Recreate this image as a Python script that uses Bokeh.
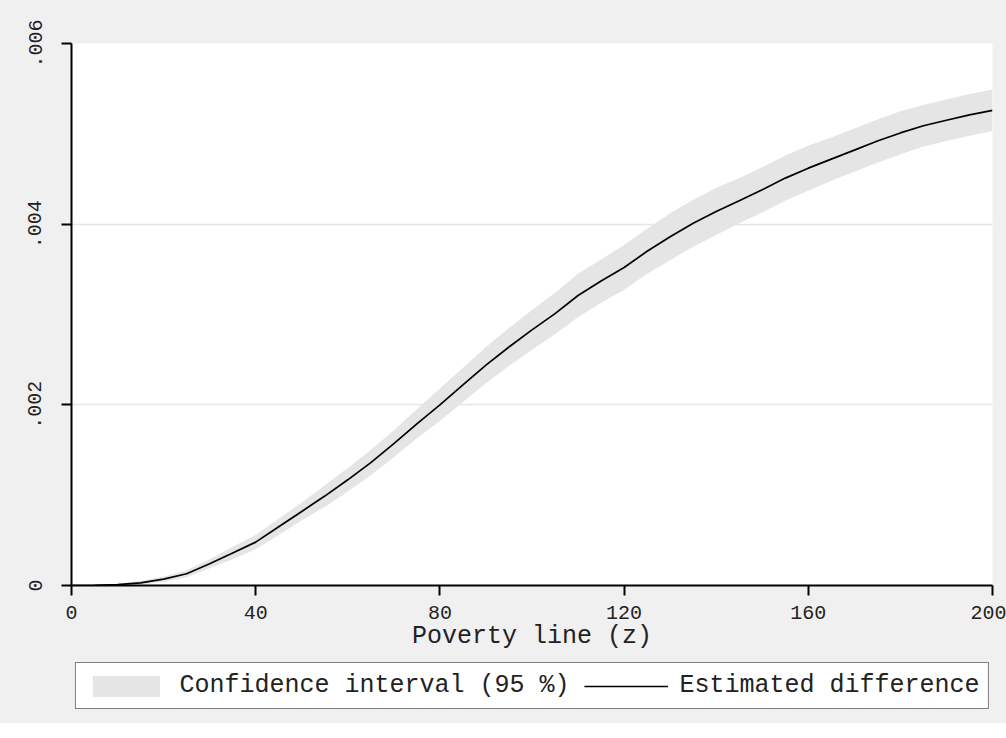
from bokeh.plotting import figure
from bokeh.layouts import column
from bokeh.models import (Range1d, FixedTicker, CustomJSTickFormatter, Legend, LegendItem,
                          ColumnDataSource)
from bokeh.embed import file_html
from bokeh.resources import INLINE

# ---- data ----
poverty_line = [0, 5, 10, 15, 20, 25, 30, 35, 40, 45, 50, 55, 60, 65, 70, 75, 80, 85, 90, 95,
                100, 105, 110, 115, 120, 125, 130, 135, 140, 145, 150, 155, 160, 165, 170, 175,
                180, 185, 190, 195, 200]
estimated_difference = [0, 0.000003, 0.00001, 0.00003, 0.00007, 0.00013, 0.00024, 0.00036, 0.00048,
                        0.00065, 0.00082, 0.00099, 0.00117, 0.00136, 0.00157, 0.00179, 0.00200,
                        0.00222, 0.00244, 0.00264, 0.00283, 0.00301, 0.00321, 0.00337, 0.00352,
                        0.00370, 0.00386, 0.00401, 0.00414, 0.00426, 0.00438, 0.00451, 0.00462,
                        0.00472, 0.00482, 0.00492, 0.00501, 0.00509, 0.00515, 0.00521, 0.00526]
ci_lower = [0, 0, 0, 0.00001, 0.00004, 0.00009, 0.00019, 0.00029, 0.00040, 0.00056, 0.00072,
            0.00087, 0.00104, 0.00122, 0.00142, 0.00163, 0.00182, 0.00203, 0.00224, 0.00243,
            0.00261, 0.00278, 0.00297, 0.00313, 0.00327, 0.00345, 0.00360, 0.00375, 0.00388,
            0.00401, 0.00413, 0.00426, 0.00437, 0.00448, 0.00458, 0.00468, 0.00477, 0.00486,
            0.00492, 0.00498, 0.00503]
ci_upper = [0, 0.000008, 0.00002, 0.00005, 0.00010, 0.00017, 0.00029, 0.00043, 0.00056, 0.00074,
            0.00092, 0.00111, 0.00130, 0.00150, 0.00172, 0.00195, 0.00218, 0.00241, 0.00264,
            0.00285, 0.00305, 0.00324, 0.00345, 0.00361, 0.00377, 0.00395, 0.00412, 0.00427,
            0.00440, 0.00451, 0.00463, 0.00476, 0.00487, 0.00496, 0.00506, 0.00516, 0.00525,
            0.00532, 0.00538, 0.00544, 0.00549]
x_ticks = [0, 40, 80, 120, 160, 200]
y_ticks = [0, 0.002, 0.004, 0.006]
x_title = "Poverty line (z)"
legend_labels = ["Confidence interval (95 %)", "Estimated difference"]

FONT = "Liberation Mono"
BG = "#f0f0f0"
BAND_COLOR = "#e5e5e5"
LINE_COLOR = "black"

src = ColumnDataSource(dict(x=poverty_line, y=estimated_difference, lo=ci_lower, hi=ci_upper))

p = figure(frame_width=921, frame_height=542, output_backend="svg", toolbar_location=None,
           x_range=Range1d(0, 200), y_range=Range1d(0, 0.006),
           min_border_left=71, min_border_top=43, min_border_right=14, min_border_bottom=72,
           background_fill_color="white", border_fill_color=BG, outline_line_color=None)

band = p.varea(x="x", y1="lo", y2="hi", source=src, fill_color=BAND_COLOR, fill_alpha=1.0)
line = p.line(x="x", y="y", source=src, line_color=LINE_COLOR, line_width=1.7)

# axes
p.xaxis.ticker = FixedTicker(ticks=x_ticks)
p.yaxis.ticker = FixedTicker(ticks=y_ticks)
p.yaxis.formatter = CustomJSTickFormatter(code="""
    if (tick == 0) { return "0"; }
    return tick.toFixed(3).replace(/^0/, "");
""")
for ax in (p.xaxis, p.yaxis):
    ax.axis_line_color = "black"
    ax.axis_line_width = 2
    ax.major_tick_line_color = "black"
    ax.major_tick_line_width = 2
    ax.major_tick_out = 10
    ax.major_tick_in = 0
    ax.minor_tick_line_color = None
    ax.major_label_text_font = FONT
    ax.major_label_text_font_size = "20px"
    ax.major_label_text_color = "#222222"
p.yaxis.major_label_orientation = "vertical"
p.yaxis.major_label_standoff = 20
p.xaxis.major_label_standoff = 10
p.xaxis.axis_label = x_title
p.xaxis.axis_label_text_font = FONT
p.xaxis.axis_label_text_font_size = "25px"
p.xaxis.axis_label_text_font_style = "normal"
p.xaxis.axis_label_text_color = "#222222"
p.xaxis.axis_label_standoff = 0

p.xgrid.grid_line_color = None
p.ygrid.grid_line_color = "#e6e6e6"
p.ygrid.grid_line_width = 1.5

# ---- legend strip below the chart: same series, same styles (series lie outside this frame) ----
q = figure(frame_width=921, frame_height=66, output_backend="svg", toolbar_location=None,
           x_axis_type=None, y_axis_type=None, x_range=Range1d(0, 200), y_range=Range1d(1, 2),
           min_border_left=71, min_border_right=14, min_border_top=0, min_border_bottom=0,
           background_fill_color=BG, border_fill_color=BG, outline_line_color=None)
q.xgrid.grid_line_color = None
q.ygrid.grid_line_color = None
key_band = q.varea(x="x", y1="lo", y2="hi", source=src, fill_color=BAND_COLOR, fill_alpha=1.0)
key_line = q.line(x="x", y="y", source=src, line_color=LINE_COLOR, line_width=1.7)

legend = Legend(items=[LegendItem(label=legend_labels[0], renderers=[key_band]),
                       LegendItem(label=legend_labels[1], renderers=[key_line])],
                orientation="horizontal", location="top_center",
                glyph_width=84, glyph_height=26, label_standoff=12, spacing=14,
                padding=8, margin=5,
                label_text_font=FONT, label_text_font_size="25px", label_text_color="#222222",
                border_line_color="black", border_line_width=1.5,
                background_fill_color="white", background_fill_alpha=1.0)
q.add_layout(legend, "center")

page = column(p, q, spacing=0, styles={"background-color": BG})
open("out.html", "w").write(file_html(page, INLINE))
